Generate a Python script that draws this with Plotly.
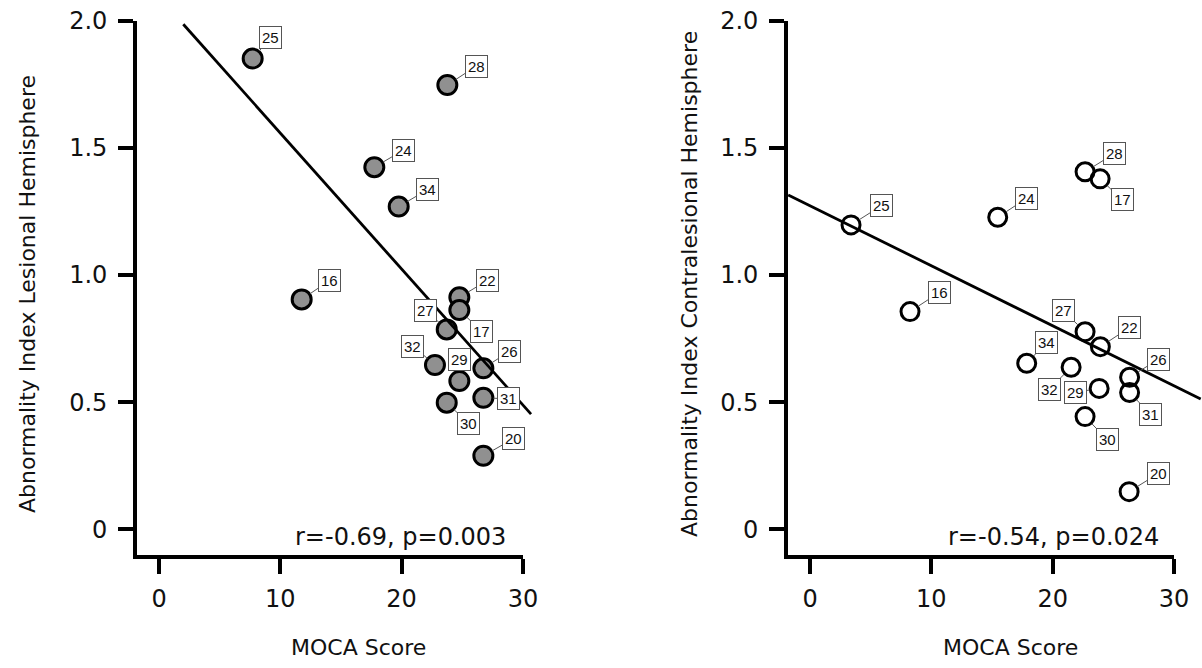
import plotly.graph_objects as go

# ---------------- data ----------------
labels_left = ["25", "28", "24", "34", "16", "22", "17", "27", "32", "29", "26", "31", "30", "20"]
moca_left = [7.72, 23.77, 17.75, 19.76, 11.76, 24.76, 24.76, 23.72, 22.75, 24.76, 26.74, 26.74, 23.72, 26.74]
ai_lesional = [1.851, 1.747, 1.424, 1.269, 0.904, 0.912, 0.862, 0.786, 0.646, 0.583, 0.633, 0.517, 0.498, 0.289]

labels_right = ["25", "24", "28", "17", "16", "27", "22", "34", "32", "29", "26", "31", "30", "20"]
moca_right = [3.38, 15.47, 22.67, 23.91, 8.24, 22.67, 23.93, 17.86, 21.52, 23.83, 26.34, 26.34, 22.67, 26.30]
ai_contra = [1.197, 1.227, 1.406, 1.378, 0.856, 0.777, 0.718, 0.653, 0.637, 0.554, 0.598, 0.538, 0.443, 0.148]

fit_left_x = [2.0, 30.67]
fit_left_y = [1.986, 0.453]
fit_right_x = [-1.8, 32.2]
fit_right_y = [1.315, 0.512]

stats_left = "r=-0.69, p=0.003"
stats_right = "r=-0.54, p=0.024"
xtitle = "MOCA Score"
ytitle_left = "Abnormality Index Lesional Hemisphere"
ytitle_right = "Abnormality Index Contralesional Hemisphere"
xticks = [0, 10, 20, 30]
yticks = [0, 0.5, 1.0, 1.5, 2.0]
yticktext = ["0", "0.5", "1.0", "1.5", "2.0"]

# ---------------- label box offsets (pixels, style) ----------------
off_left = {"25": (18, -21), "28": (29, -19), "24": (29, -17), "34": (29, -17),
            "16": (28, -19), "22": (28, -17), "17": (22, 21), "27": (-21, -19),
            "32": (-22, -19), "29": (0, -22), "26": (26, -17), "31": (25, 1),
            "30": (22, 21), "20": (30, -17)}
off_right = {"25": (30, -19), "24": (29, -19), "28": (29, -18), "17": (22, 21),
             "16": (29, -19), "27": (-22, -21), "22": (29, -19), "34": (20, -21),
             "32": (-22, 22), "29": (-24, 4), "26": (29, -18), "31": (21, 22),
             "30": (22, 23), "20": (29, -18)}

W, H = 1202, 668
XR = [-1.8, 30]
YR = [-0.10, 2.0]
dom_l = [137.2 / W, 522.9 / W]
dom_r = [788.2 / W, 1174.0 / W]
dom_y = [(H - 554.7) / H, (H - 20.7) / H]

FONT = "DejaVu Sans"

fig = go.Figure()


def ext_axes(dom_x):
    # extended invisible axes with identical scale, so the fit line is not clipped at x=30
    px_per_x = (dom_x[1] - dom_x[0]) * W / (XR[1] - XR[0])
    px_per_y = (dom_y[1] - dom_y[0]) * H / (YR[1] - YR[0])
    ex_r = min(W - dom_x[1] * W, 40)
    ex_l = 10
    ex_t = 10
    ex_b = 10
    xd = [dom_x[0] - ex_l / W, dom_x[1] + ex_r / W]
    xr = [XR[0] - ex_l / px_per_x, XR[1] + ex_r / px_per_x]
    yd = [dom_y[0] - ex_b / H, dom_y[1] + ex_t / H]
    yr = [YR[0] - ex_b / px_per_y, YR[1] + ex_t / px_per_y]
    return xd, xr, yd, yr


xd3, xr3, yd3, yr3 = ext_axes(dom_l)
xd4, xr4, yd4, yr4 = ext_axes(dom_r)

fig.add_trace(go.Scatter(x=fit_left_x, y=fit_left_y, mode="lines", xaxis="x3", yaxis="y3",
                         line=dict(color="black", width=2.8), showlegend=False, hoverinfo="skip"))
fig.add_trace(go.Scatter(x=fit_right_x, y=fit_right_y, mode="lines", xaxis="x4", yaxis="y4",
                         line=dict(color="black", width=2.8), showlegend=False, hoverinfo="skip"))

# main scatter traces
fig.add_trace(go.Scatter(x=moca_left, y=ai_lesional, mode="markers", xaxis="x", yaxis="y",
                         marker=dict(size=19, color="#909090", line=dict(color="black", width=3)),
                         showlegend=False, hoverinfo="skip"))
fig.add_trace(go.Scatter(x=moca_right, y=ai_contra, mode="markers", xaxis="x2", yaxis="y2",
                         marker=dict(size=18, color="rgba(0,0,0,0)", line=dict(color="black", width=3)),
                         showlegend=False, hoverinfo="skip"))

axis_common = dict(showgrid=False, zeroline=False, showline=True, linecolor="black", linewidth=4,
                   ticks="outside", ticklen=15, tickwidth=4, tickcolor="black",
                   tickfont=dict(family=FONT, size=24, color="#111"), automargin=False,
                   fixedrange=True)

fig.update_layout(
    width=W, height=H,
    margin=dict(l=0, r=0, t=0, b=0),
    paper_bgcolor="white", plot_bgcolor="rgba(0,0,0,0)",
    xaxis=dict(domain=dom_l, range=XR, anchor="y", tickvals=xticks, ticklabelstandoff=4, **axis_common),
    yaxis=dict(domain=dom_y, range=YR, anchor="x", tickvals=yticks, ticktext=yticktext,
               ticklabelstandoff=6, **axis_common),
    xaxis2=dict(domain=dom_r, range=XR, anchor="y2", tickvals=xticks, ticklabelstandoff=4, **axis_common),
    yaxis2=dict(domain=dom_y, range=YR, anchor="x2", tickvals=yticks, ticktext=yticktext,
                ticklabelstandoff=6, **axis_common),
    xaxis3=dict(domain=xd3, range=xr3, anchor="y3", visible=False, fixedrange=True),
    yaxis3=dict(domain=yd3, range=yr3, anchor="x3", visible=False, fixedrange=True),
    xaxis4=dict(domain=xd4, range=xr4, anchor="y4", visible=False, fixedrange=True),
    yaxis4=dict(domain=yd4, range=yr4, anchor="x4", visible=False, fixedrange=True),
)

annotations = []


def add_labels(xs, ys, labs, offs, xref, yref):
    for xv, yv, lab in zip(xs, ys, labs):
        ax, ay = offs[lab]
        annotations.append(dict(
            x=xv, y=yv, xref=xref, yref=yref, text=lab, showarrow=True,
            arrowhead=0, arrowwidth=1, arrowcolor="#555", ax=ax, ay=ay, standoff=10,
            bordercolor="#555", borderwidth=1, borderpad=2, bgcolor="white",
            font=dict(family="Liberation Sans", size=15, color="#111")))


add_labels(moca_left, ai_lesional, labels_left, off_left, "x", "y")
add_labels(moca_right, ai_contra, labels_right, off_right, "x2", "y2")

annotations.append(dict(x=28.8, y=-0.03, xref="x", yref="y", text=stats_left, showarrow=False,
                        xanchor="right", yanchor="middle", font=dict(family=FONT, size=24, color="#111")))
annotations.append(dict(x=28.94, y=-0.03, xref="x2", yref="y2", text=stats_right, showarrow=False,
                        xanchor="right", yanchor="middle", font=dict(family=FONT, size=24, color="#111")))

annotations.append(dict(x=358 / W, y=(H - 647) / H, xref="paper", yref="paper", text=xtitle,
                        showarrow=False, xanchor="center", yanchor="middle",
                        font=dict(family=FONT, size=22, color="#111")))
annotations.append(dict(x=1010 / W, y=(H - 647) / H, xref="paper", yref="paper", text=xtitle,
                        showarrow=False, xanchor="center", yanchor="middle",
                        font=dict(family=FONT, size=22, color="#111")))
annotations.append(dict(x=27 / W, y=(H - 294) / H, xref="paper", yref="paper", text=ytitle_left,
                        showarrow=False, textangle=-90, xanchor="center", yanchor="middle",
                        font=dict(family=FONT, size=22, color="#111")))
annotations.append(dict(x=689 / W, y=(H - 284) / H, xref="paper", yref="paper", text=ytitle_right,
                        showarrow=False, textangle=-90, xanchor="center", yanchor="middle",
                        font=dict(family=FONT, size=22, color="#111")))

fig.update_layout(annotations=annotations)

fig.write_html("out.html", config={"displayModeBar": False},
               post_script="document.body.style.margin='0';")
